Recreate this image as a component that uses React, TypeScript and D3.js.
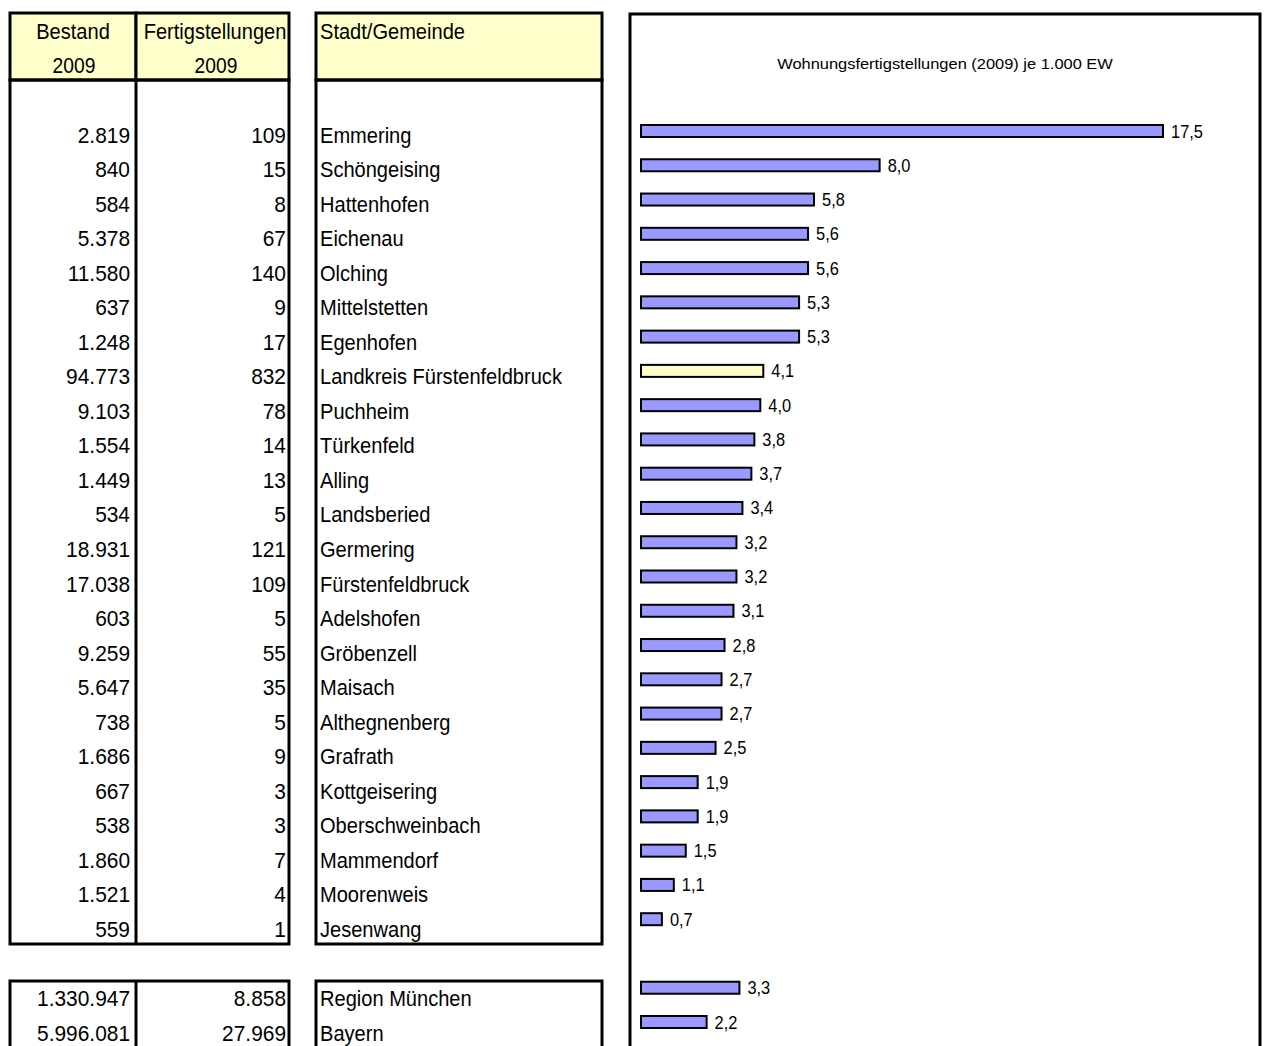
import { useEffect, useRef } from "react";
import * as d3 from "d3";

const places = [
  "Emmering", "Schöngeising", "Hattenhofen", "Eichenau", "Olching", "Mittelstetten",
  "Egenhofen", "Landkreis Fürstenfeldbruck", "Puchheim", "Türkenfeld", "Alling",
  "Landsberied", "Germering", "Fürstenfeldbruck", "Adelshofen", "Gröbenzell", "Maisach",
  "Althegnenberg", "Grafrath", "Kottgeisering", "Oberschweinbach", "Mammendorf",
  "Moorenweis", "Jesenwang",
];
const bestand = [
  2819, 840, 584, 5378, 11580, 637, 1248, 94773, 9103, 1554, 1449, 534, 18931, 17038,
  603, 9259, 5647, 738, 1686, 667, 538, 1860, 1521, 559,
];
const fertig = [
  109, 15, 8, 67, 140, 9, 17, 832, 78, 14, 13, 5, 121, 109, 5, 55, 35, 5, 9, 3, 3, 7, 4, 1,
];
const rate = [
  17.5, 8.0, 5.8, 5.6, 5.6, 5.3, 5.3, 4.1, 4.0, 3.8, 3.7, 3.4, 3.2, 3.2, 3.1, 2.8, 2.7,
  2.7, 2.5, 1.9, 1.9, 1.5, 1.1, 0.7,
];
const regions = ["Region München", "Bayern"];
const regionBestand = [1330947, 5996081];
const regionFertig = [8858, 27969];
const regionRate = [3.3, 2.2];
const highlight = "Landkreis Fürstenfeldbruck";
const chartTitle = "Wohnungsfertigstellungen (2009) je 1.000 EW";

const FONT = "'Liberation Sans', Arial, sans-serif";

export default function App() {
  const ref = useRef<SVGSVGElement>(null);

  useEffect(() => {
    const svg = d3.select(ref.current);
    svg.selectAll("*").remove();
    const W = 1267, H = 1046;
    svg.attr("width", W).attr("height", H).style("font-family", FONT);

    const fmt = d3.formatLocale({ decimal: ",", thousands: ".", grouping: [3], currency: ["", "€"] });
    const num = fmt.format(",d");
    const dec = fmt.format(".1f");

    // measure a string to squeeze the wide fallback font into the condensed look
    const measure = (s: string, size: number) => {
      const t = svg.append("text").attr("font-size", size).text(s);
      const w = (t.node() as SVGTextElement).getComputedTextLength();
      t.remove();
      return w;
    };
    const rowFont = 22;
    const sx = 242 / measure(highlight, rowFont);
    const sxNum = 93 / measure("1.330.947", rowFont);
    const lblFont = 18;
    const titleFont = 15;
    const sxTitle = 336 / measure(chartTitle, titleFont);

    const txt = (g: any, x: number, y: number, s: string, size: number, anchor = "start", k = sx) =>
      g.append("text").attr("transform", `translate(${x},${y}) scale(${k},1)`)
        .attr("font-size", size).attr("text-anchor", anchor).attr("fill", "#000").text(s);

    // rows: 24 places, blank, 2 regions
    const baseY = d3.scaleLinear().domain([0, 26]).range([142.5, 1040.5]);
    const barY = d3.scaleLinear().domain([0, 26]).range([131, 1022]);
    const idxRegion = (i: number) => 25 + i;

    const yellow = "#ffffcc";

    const frame = (x: number, y: number, w: number, h: number, fill = "none") =>
      svg.append("rect").attr("x", x).attr("y", y).attr("width", w).attr("height", h)
        .attr("fill", fill).attr("stroke", "#000").attr("stroke-width", 3);
    const vline = (x: number, y1: number, y2: number) =>
      svg.append("line").attr("x1", x).attr("x2", x).attr("y1", y1).attr("y2", y2)
        .attr("stroke", "#000").attr("stroke-width", 3);

    frame(10, 13, 126, 67, yellow);
    frame(136, 13, 153, 67, yellow);
    frame(10, 80, 279, 864);
    vline(136, 80, 944);

    frame(316, 13, 286, 67, yellow);
    frame(316, 80, 286, 864);

    frame(10, 981, 279, 80);
    vline(136, 981, 1061);
    frame(316, 981, 286, 80);

    // headers
    const hdr = svg.append("g");
    txt(hdr, 73, 39, "Bestand", rowFont, "middle");
    txt(hdr, 74, 73, "2009", rowFont, "middle", sxNum * 0.92);
    txt(hdr, 215, 39, "Fertigstellungen", rowFont, "middle");
    txt(hdr, 216, 73, "2009", rowFont, "middle", sxNum * 0.92);
    txt(hdr, 320, 39, "Stadt/Gemeinde", rowFont);

    const rows = svg.append("g");
    const addRow = (i: number, name: string, b: number, f: number) => {
      const y = baseY(i);
      txt(rows, 130, y, num(b), rowFont, "end", sxNum);
      txt(rows, 286, y, num(f), rowFont, "end", sxNum);
      txt(rows, 320, y, name, rowFont);
    };
    places.forEach((p, i) => addRow(i, p, bestand[i], fertig[i]));
    regions.forEach((p, i) => addRow(idxRegion(i), p, regionBestand[i], regionFertig[i]));

    // chart panel
    svg.append("rect").attr("x", 630).attr("y", 14).attr("width", 630).attr("height", 1050)
      .attr("fill", "#fff").attr("stroke", "#000").attr("stroke-width", 3);
    txt(svg, 945, 69, chartTitle, titleFont, "middle", sxTitle);

    const x = d3.scaleLinear().domain([0, 17.5]).range([641, 1163]);
    const barH = 12;
    const all = [
      ...places.map((p, i) => ({ name: p, v: rate[i], i })),
      ...regions.map((p, i) => ({ name: p, v: regionRate[i], i: idxRegion(i) })),
    ];
    const bars = svg.append("g");
    bars.selectAll("rect").data(all).join("rect")
      .attr("x", x(0)).attr("y", d => barY(d.i) - barH / 2)
      .attr("width", d => x(d.v) - x(0)).attr("height", barH)
      .attr("fill", d => (d.name === highlight ? "#ffffcc" : "#9999ff"))
      .attr("stroke", "#000").attr("stroke-width", 2);
    const labels = svg.append("g");
    all.forEach(d => txt(labels, x(d.v) + 8, barY(d.i) + 6.5, dec(d.v), lblFont));
  }, []);

  return <svg ref={ref} style={{ position: "absolute", left: 0, top: 0 }} />;
}
